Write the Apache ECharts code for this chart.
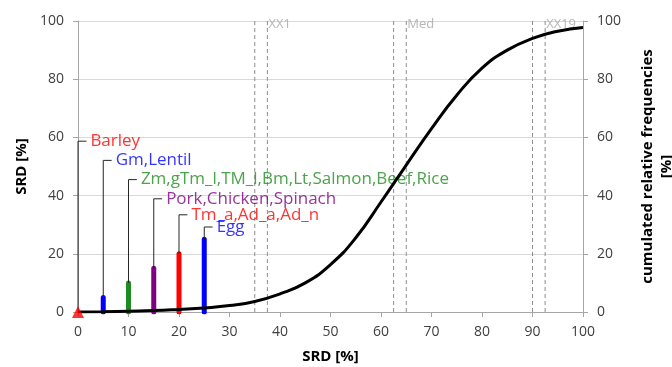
<!DOCTYPE html>
<html>
<head>
<meta charset="utf-8">
<script src="https://cdn.jsdelivr.net/npm/echarts@6/dist/echarts.min.js"></script>
<style>
  html, body { margin: 0; padding: 0; background: #fff; }
  #chart { width: 672px; height: 367px; }
</style>
</head>
<body>
<div id="chart"></div>
<script>
// cumulated relative frequency curve (right axis)
const curveX = [0, 5, 10, 15, 20, 25, 30, 35, 40, 45, 50, 55, 60, 65, 70, 75, 80, 85, 90, 95, 100];
const curveY = [0, 0.1, 0.3, 0.5, 0.9, 1.4, 2.2, 3.6, 6.2, 10, 16.3, 25.5, 37.8, 50.5, 63, 74.5, 83.8, 90, 94, 96.5, 97.8];

// food groups: SRD value, label height, label text and colour
const groupSRD = [0, 5, 10, 15, 20, 25];
const groupLabelY = [58.7, 52.1, 45.5, 38.9, 33.4, 29.2];
const groupNames = ['Barley', 'Gm,Lentil', 'Zm,gTm_l,TM_l,Bm,Lt,Salmon,Beef,Rice', 'Pork,Chicken,Spinach', 'Tm_a,Ad_a,Ad_n', 'Egg'];
const groupColors = ['#ff0000', '#0000ff', '#1e8c1e', '#800080', '#ff0000', '#0000ff'];

// dashed reference lines and their captions
const refLineX = [35, 37.5, 62.5, 65, 90, 92.5];
const refNames = ['XX1', 'Med', 'XX19'];
const refNameX = [37.5, 65, 92.5];

const FONT = 'Open Sans';
const tickLen = 1.66; // short horizontal leader tick, in x units

const series = [];

// dashed verticals
refLineX.forEach((x) => {
  series.push({
    type: 'line', data: [[x, 0], [x, 100]], symbol: 'none', silent: true, z: 1,
    lineStyle: { color: '#8c8c8c', width: 1, type: [4, 3] },
  });
});
series.push({
  type: 'scatter', symbolSize: 0, z: 1, silent: true,
  data: refNameX.map((x, i) => ({ value: [x, 100], name: refNames[i] })),
  label: {
    show: true, position: 'right', distance: 1, offset: [0, 3],
    formatter: '{b}', color: '#a6a6a6', fontFamily: FONT, fontSize: 13,
  },
});

// bars and leader lines
groupSRD.forEach((v, i) => {
  if (v > 0) {
    series.push({
      type: 'line', data: [[v, 0], [v, v]], symbol: 'none', z: 2,
      lineStyle: { color: groupColors[i], width: 5, cap: 'round' },
    });
  }
  series.push({
    type: 'line', z: 2, symbol: 'none',
    data: [[v, v], [v, groupLabelY[i]], [v + tickLen, groupLabelY[i]]],
    lineStyle: { color: '#262626', width: 1 },
  });
});

// group labels at the end of each leader
series.push({
  type: 'scatter', symbolSize: 0, z: 2, silent: true,
  data: groupSRD.map((v, i) => ({
    value: [v + tickLen, groupLabelY[i]],
    name: groupNames[i],
    label: { color: groupColors[i] },
  })),
  label: {
    show: true, position: 'right', distance: 4, formatter: '{b}',
    fontFamily: FONT, fontSize: 17,
  },
});

// red triangle at origin
series.push({
  type: 'scatter', data: [[0, 0]], symbol: 'triangle', symbolSize: 12, z: 5,
  itemStyle: { color: '#ff0000' },
});

// cumulative curve
series.push({
  type: 'line', yAxisIndex: 1, z: 4, smooth: true, symbol: 'none',
  data: curveX.map((x, i) => [x, curveY[i]]),
  lineStyle: { color: '#000', width: 3 },
});

const axisText = { color: '#404040', fontFamily: FONT, fontSize: 14 };
const axisLine = { show: true, lineStyle: { color: '#a6a6a6' } };
const axisTick = { show: true, length: 5, lineStyle: { color: '#a6a6a6' } };

const chart = echarts.init(document.getElementById('chart'));
chart.setOption({
  animation: false,
  grid: { left: 78, right: 89, top: 21, bottom: 55, outerBoundsMode: 'none' },
  xAxis: {
    type: 'value', min: 0, max: 100, interval: 10,
    name: 'SRD [%]', nameLocation: 'middle', nameGap: 37,
    nameTextStyle: { color: '#000', fontFamily: FONT, fontSize: 15, fontWeight: 'bold' },
    axisLine, axisTick, splitLine: { show: false },
    axisLabel: Object.assign({ margin: 13 }, axisText),
  },
  yAxis: [
    {
      type: 'value', min: 0, max: 100, interval: 20,
      name: 'SRD [%]', nameLocation: 'middle', nameGap: 45, nameRotate: 90,
      nameTextStyle: { color: '#000', fontFamily: FONT, fontSize: 15, fontWeight: 'bold' },
      axisLine, axisTick,
      splitLine: { show: true, lineStyle: { color: '#d9d9d9' } },
      axisLabel: Object.assign({ margin: 14 }, axisText),
    },
    {
      type: 'value', min: 0, max: 100, interval: 20, position: 'right',
      name: 'cumulated relative frequencies\n[%]', nameLocation: 'middle', nameGap: 55, nameRotate: 90,
      nameTextStyle: { color: '#000', fontFamily: FONT, fontSize: 15, fontWeight: 'bold', lineHeight: 19 },
      axisLine, axisTick, splitLine: { show: false },
      axisLabel: Object.assign({ margin: 14 }, axisText),
    },
  ],
  series,
});
</script>
</body>
</html>
